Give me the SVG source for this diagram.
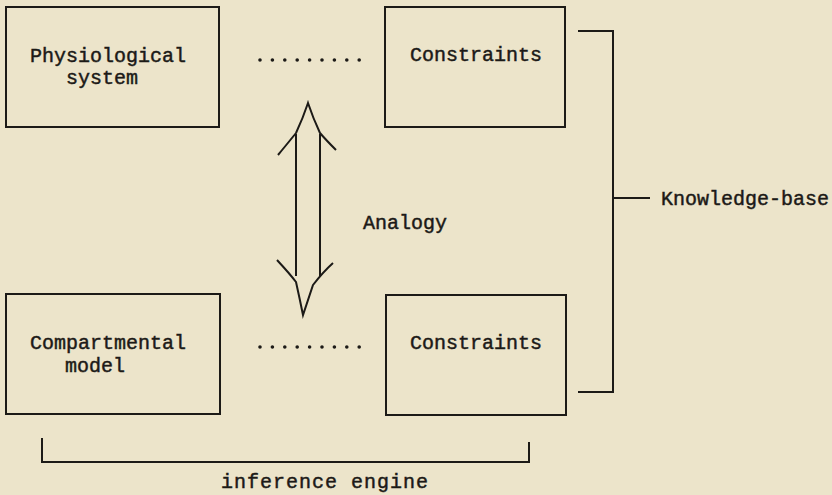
<svg xmlns="http://www.w3.org/2000/svg" width="832" height="495" viewBox="0 0 832 495">
  <style>
    .box { fill: none; stroke: #1c1a17; stroke-width: 2; }
    .line { fill: none; stroke: #1c1a17; stroke-width: 2; stroke-linejoin: miter; }
    .dots { fill: none; stroke: #1c1a17; stroke-width: 3.6; stroke-linecap: round; stroke-dasharray: 0 12.4; }
    text { font-family: "Liberation Mono", "DejaVu Sans Mono", monospace; font-size: 20px; fill: #1c1a17; stroke: #1c1a17; stroke-width: 0.45; }
  </style>
  <rect width="832" height="495" fill="#ece4ca"/>

  <g id="physiological-system">
    <rect class="box" x="6" y="7" width="213" height="120"/>
    <text x="30" y="62">Physiological</text>
    <text x="66" y="84">system</text>
  </g>

  <g id="constraints-top">
    <rect class="box" x="385" y="7" width="180" height="120"/>
    <text x="410" y="61">Constraints</text>
  </g>

  <g id="compartmental-model">
    <rect class="box" x="6" y="294" width="214" height="120"/>
    <text x="30" y="349">Compartmental</text>
    <text x="65" y="372">model</text>
  </g>

  <g id="constraints-bottom">
    <rect class="box" x="386" y="295" width="180" height="120"/>
    <text x="410" y="349">Constraints</text>
  </g>

  <g id="connectors">
    <!-- dotted links between each system and its constraints -->
    <path class="dots" d="M260 60 H362"/>
    <path class="dots" d="M260 347 H362"/>

    <!-- double-shafted analogy arrow -->
    <path class="line" d="M296 134 V276"/>
    <path class="line" d="M320 134 V276"/>
    <path class="line" d="M278 155 Q292 138 296 133 Q303 118 308 103 Q313 118 320 133 Q326 140 336 150"/>
    <path class="line" d="M277 260 Q290 274 296 282 Q300 300 303 315 Q308 300 313 285 Q323 272 333 263"/>
    <text x="363" y="229">Analogy</text>

    <!-- knowledge-base bracket -->
    <path class="line" d="M578 31 H613 V392 H578"/>
    <path class="line" d="M613 198 H650"/>
    <text x="661" y="205">Knowledge-base</text>

    <!-- inference engine bracket -->
    <path class="line" d="M42 438 V462 H529 V442"/>
    <text x="221" y="488" letter-spacing="1">inference engine</text>
  </g>
</svg>
